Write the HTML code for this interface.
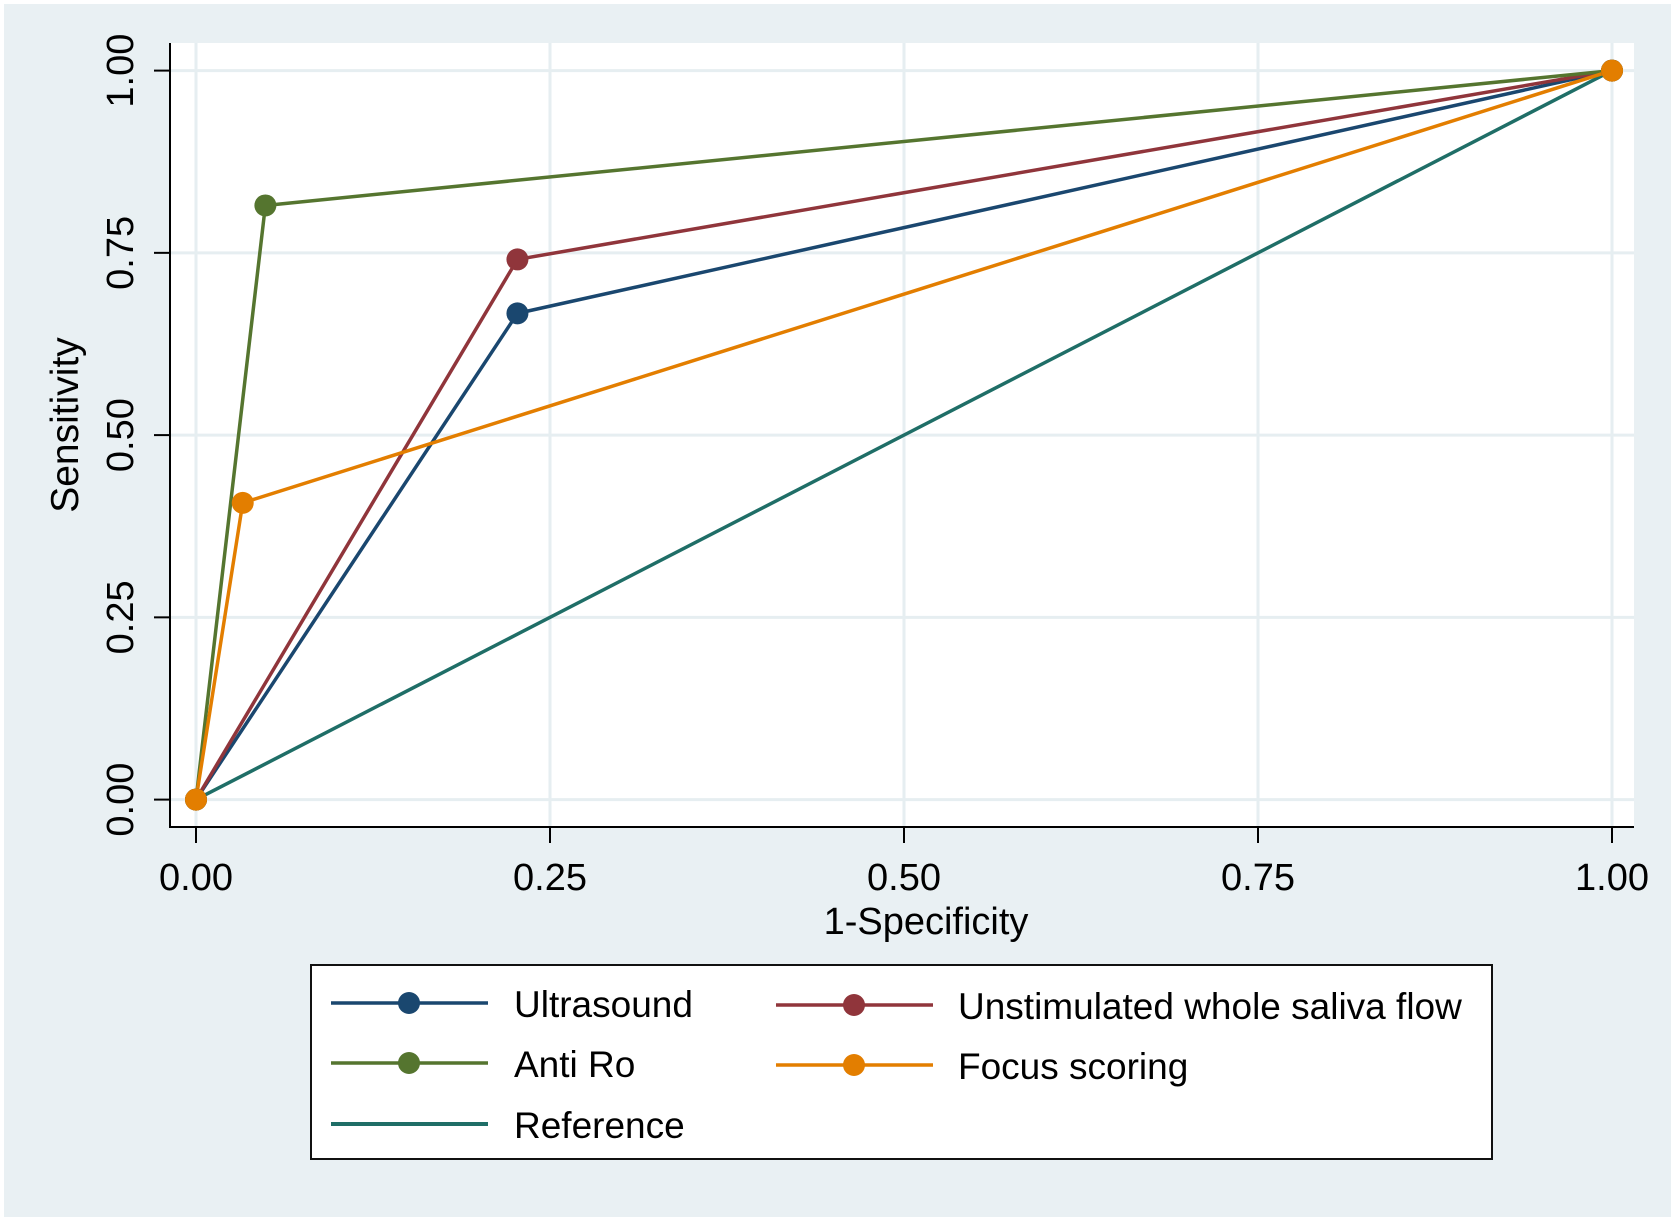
<!DOCTYPE html>
<html><head><meta charset="utf-8"><style>
html,body{margin:0;padding:0;background:#fff;}
svg{display:block;font-family:"Liberation Sans",Arial,sans-serif;}
</style></head><body>
<svg id="chart" width="1675" height="1221" viewBox="0 0 1675 1221">
<rect x="4" y="4" width="1667" height="1213" fill="#e9f0f3"/>
<rect x="170" y="43" width="1464" height="784" fill="#ffffff"/>
<g id="grid"></g>
<g id="axes"></g>
<g id="series"></g>
<text x="78" y="425" font-size="39" text-anchor="middle" transform="rotate(-90 78 425)">Sensitivity</text>
<text x="926" y="934" font-size="38" text-anchor="middle">1-Specificity</text>
<g>
<rect x="311" y="965" width="1181" height="194" fill="#fff" stroke="#111" stroke-width="2"/>
<g><line x1="331" y1="1003" x2="488" y2="1003" stroke="#1a476f" stroke-width="3.5"/><circle cx="409" cy="1003" r="11" fill="#1a476f"/><text x="514" y="1017" font-size="37">Ultrasound</text></g>
<g><line x1="776" y1="1005" x2="933" y2="1005" stroke="#90353b" stroke-width="3.5"/><circle cx="854" cy="1005" r="11" fill="#90353b"/><text x="958" y="1019" font-size="37">Unstimulated whole saliva flow</text></g>
<g><line x1="331" y1="1063" x2="488" y2="1063" stroke="#55752f" stroke-width="3.5"/><circle cx="409" cy="1063" r="11" fill="#55752f"/><text x="514" y="1077" font-size="37">Anti Ro</text></g>
<g><line x1="776" y1="1065" x2="933" y2="1065" stroke="#e37e00" stroke-width="3.5"/><circle cx="854" cy="1065" r="11" fill="#e37e00"/><text x="958" y="1079" font-size="37">Focus scoring</text></g>
<g><line x1="331" y1="1124" x2="488" y2="1124" stroke="#1f6e67" stroke-width="4"/><text x="514" y="1138" font-size="37">Reference</text></g>
</g>
</svg>
<script>
const ticks=[0,0.25,0.5,0.75,1];
const tickLabels=["0.00","0.25","0.50","0.75","1.00"];
const seriesNames=["Reference","Ultrasound","Unstimulated whole saliva flow","Anti Ro","Focus scoring"];
const seriesColors=["#1f6e67","#1a476f","#90353b","#55752f","#e37e00"];
const refX=[0,1];const refY=[0,1];
const usX=[0,0.227,1];const usY=[0,0.667,1];
const salivaX=[0,0.227,1];const salivaY=[0,0.741,1];
const antiX=[0,0.049,1];const antiY=[0,0.815,1];
const focusX=[0,0.033,1];const focusY=[0,0.407,1];
const xs=[refX,usX,salivaX,antiX,focusX];
const ys=[refY,usY,salivaY,antiY,focusY];
const markers=[false,true,true,true,true];
const NS="http://www.w3.org/2000/svg";
function sx(v){return 196+v*1416;}
function sy(v){return 799.6-v*729;}
function mk(t,a,p){const e=document.createElementNS(NS,t);for(const k in a)e.setAttribute(k,a[k]);p.appendChild(e);return e;}
const grid=document.getElementById('grid'),axes=document.getElementById('axes'),ser=document.getElementById('series');
ticks.forEach((t,i)=>{
 let g=mk('line',{x1:sx(t),x2:sx(t),y1:43,y2:827,stroke:'#e6eef1','stroke-width':3},grid);
 
 
 g=mk('line',{x1:170,x2:1634,y1:sy(t),y2:sy(t),stroke:'#e6eef1','stroke-width':3},grid);
 
 
 let tk=mk('line',{x1:sx(t),x2:sx(t),y1:827,y2:843,stroke:'#000','stroke-width':2},axes);
 
 
 let tl=mk('text',{x:sx(t),y:890,'font-size':38,'text-anchor':'middle'},axes);tl.textContent=tickLabels[i];
 
 
 tk=mk('line',{x1:154,x2:170,y1:sy(t),y2:sy(t),stroke:'#000','stroke-width':2},axes);
 
 
 const yy=sy(t);
 tl=mk('text',{x:133,y:yy,'font-size':38,'text-anchor':'middle',transform:'rotate(-90 133 '+yy+')'},axes);tl.textContent=tickLabels[i];
 
 
});
let ax=mk('line',{x1:170,x2:170,y1:43,y2:828,stroke:'#000','stroke-width':2},axes);


ax=mk('line',{x1:169,x2:1634,y1:827,y2:827,stroke:'#000','stroke-width':2},axes);


xs.forEach((X,s)=>{
 const pts=X.map((v,i)=>sx(v)+','+sy(ys[s][i])).join(' ');
 const pl=mk('polyline',{points:pts,fill:'none',stroke:seriesColors[s],'stroke-width':3.5},ser);
 
 
});
xs.forEach((X,s)=>{
 if(!markers[s])return;
 X.forEach((v,i)=>{
  const c=mk('circle',{cx:sx(v),cy:sy(ys[s][i]),r:11,fill:seriesColors[s]},ser);
  
  
 });
});
</script>
</body></html>
